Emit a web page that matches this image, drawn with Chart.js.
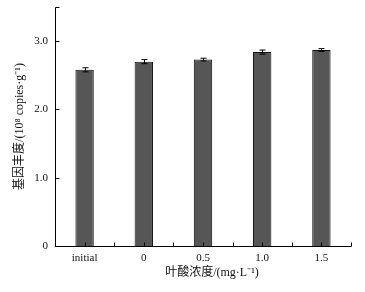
<!DOCTYPE html>
<html>
<head>
<meta charset="utf-8">
<script src="https://cdn.jsdelivr.net/npm/chart.js@4/dist/chart.umd.min.js"></script>
<style>
html,body{margin:0;padding:0;background:#fff;}
#wrap{width:365px;height:292px;}
</style>
</head>
<body>
<div id="wrap"><canvas id="c" width="365" height="292"></canvas></div>
<script>
const categories = ["initial", "0", "0.5", "1.0", "1.5"];
const abundance = [2.58, 2.70, 2.73, 2.84, 2.87];
const errors = [0.03, 0.03, 0.02, 0.03, 0.02];
const yTicks = [0, 1, 2, 3];

const serif = "'Liberation Serif', 'DejaVu Serif', serif";
const titleFont = "'Liberation Serif', 'Noto Sans CJK SC', serif";

const axisPlugin = {
  id: 'axisPlugin',
  afterDatasetsDraw(chart) {
    const ctx = chart.ctx;
    const x = chart.scales.x, y = chart.scales.y;
    const ca = chart.chartArea;
    ctx.save();
    ctx.strokeStyle = '#000';
    ctx.lineWidth = 1;
    const meta = chart.getDatasetMeta(0);
    meta.data.forEach((bar, i) => {
      const cx = Math.round(bar.x) + 0.5;
      const yt = y.getPixelForValue(abundance[i] + errors[i]);
      const yb = y.getPixelForValue(abundance[i] - errors[i]);
      ctx.beginPath();
      ctx.moveTo(cx, yt); ctx.lineTo(cx, yb);
      ctx.moveTo(cx - 3, yt); ctx.lineTo(cx + 3, yt);
      ctx.moveTo(cx - 3, yb); ctx.lineTo(cx + 3, yb);
      ctx.stroke();
    });
    const L = Math.round(ca.left) + 0.5, B = Math.round(ca.bottom) + 0.5;
    ctx.beginPath();
    ctx.moveTo(L, Math.round(ca.top) + 0.5);
    ctx.lineTo(L, B);
    ctx.lineTo(Math.round(ca.right) + 0.5, B);
    ctx.stroke();
    ctx.beginPath();
    yTicks.concat([y.max]).forEach(v => {
      const py = Math.round(y.getPixelForValue(v)) + 0.5;
      ctx.moveTo(L, py); ctx.lineTo(L + 4, py);
    });
    categories.forEach((c, i) => {
      const px = Math.round(x.getPixelForValue(i)) + 0.5;
      ctx.moveTo(px, B); ctx.lineTo(px, B - 4);
      const bx = Math.round(x.getPixelForValue(i + 0.5)) + 0.5;
      ctx.moveTo(bx, B); ctx.lineTo(bx, B - 4);
    });
    ctx.stroke();
    ctx.restore();
  }
};

new Chart(document.getElementById('c'), {
  type: 'bar',
  data: {
    labels: categories,
    datasets: [{
      data: abundance,
      backgroundColor: '#565656',
      borderColor: '#111',
      borderWidth: 1,
      barPercentage: 0.31,
      categoryPercentage: 1.0
    }]
  },
  options: {
    responsive: false,
    animation: false,
    devicePixelRatio: 1,
    layout: { padding: { left: 9, top: 7, right: 14, bottom: 8 } },
    plugins: { legend: { display: false }, tooltip: { enabled: false } },
    scales: {
      x: {
        offset: true,
        border: { display: false },
        grid: { display: false, drawTicks: false },
        ticks: { color: '#111', padding: 6, font: { family: serif, size: 11 } },
        title: {
          display: true,
          text: '      叶酸浓度/(mg·L⁻¹)',
          color: '#111',
          font: { family: titleFont, size: 12 }
        },
        afterFit(s) { s.height = 38; s.paddingLeft = 0; s.paddingRight = 0; }
      },
      y: {
        min: 0,
        max: 3.5,
        border: { display: false },
        grid: { display: false, drawTicks: false },
        afterBuildTicks(s) { s.ticks = yTicks.map(v => ({ value: v })); },
        ticks: {
          color: '#111',
          padding: 7,
          font: { family: serif, size: 11 },
          callback: v => v === 0 ? '0' : Number(v).toFixed(1)
        },
        title: {
          display: true,
          text: '基因丰度/(10⁸ copies·g⁻¹)',
          color: '#111',
          font: { family: titleFont, size: 12 }
        },
        afterFit(s) { s.width = 46; s.paddingTop = 0; s.paddingBottom = 0; }
      }
    }
  },
  plugins: [axisPlugin]
});
</script>
</body>
</html>
